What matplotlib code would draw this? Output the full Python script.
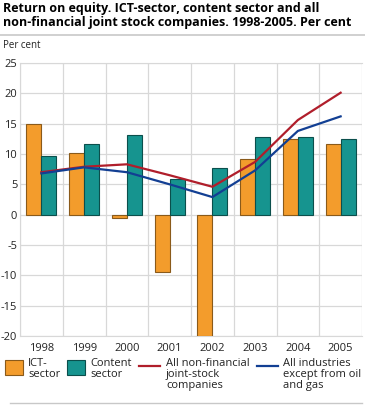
import numpy as np
import matplotlib
matplotlib.use("Agg")
import matplotlib.pyplot as plt
from matplotlib.patches import Rectangle
from matplotlib.lines import Line2D

years = ["1998", "1999", "2000", "2001", "2002", "2003", "2004", "2005"]
ict = [15.0, 10.2, -0.6, -9.5, -20.0, 9.2, 12.5, 11.7]
content = [9.7, 11.7, 13.2, 5.8, 7.7, 12.8, 12.8, 12.4]
non_financial = [7.0, 7.9, 8.3, 6.5, 4.6, 8.7, 15.6, 20.1]
all_industries = [6.8, 7.8, 7.0, 5.0, 2.9, 7.3, 13.8, 16.2]

orange = "#f39c2c"
teal = "#16948f"
red = "#b01e2b"
blue = "#123f93"
grid_col = "#d8d8d8"

plt.rcParams['font.family'] = ['Open Sans', 'DejaVu Sans']
plt.rcParams['axes.unicode_minus'] = False

fig = plt.figure(figsize=(3.65, 4.05), dpi=100)
ax = fig.add_axes([20/365, 1-336/405, 342/365, 273/405])

x = np.arange(len(years))
w = 0.35
ax.bar(x - w/2, ict, w, color=orange, edgecolor="#8a5a1a", linewidth=0.8, zorder=3)
ax.bar(x + w/2, content, w, color=teal, edgecolor="#0b4f4c", linewidth=0.8, zorder=3)
ax.plot(x, non_financial, color=red, linewidth=1.6, zorder=4)
ax.plot(x, all_industries, color=blue, linewidth=1.6, zorder=4)

ax.set_xlim(-0.5, len(years) - 0.5)
ax.set_ylim(-20, 25)
ax.set_yticks(range(-20, 26, 5))
ax.set_xticks(x)
ax.set_xticklabels(years)
ax.set_xticks(np.arange(-0.5, len(years), 1), minor=True)
ax.tick_params(axis="both", which="both", length=0, labelsize=8, colors="#222222")
ax.tick_params(axis="x", pad=5)
ax.tick_params(axis="y", pad=2)
ax.grid(True, which="minor", axis="x", color=grid_col, linewidth=0.9, zorder=0)
ax.grid(True, which="major", axis="y", color=grid_col, linewidth=0.9, zorder=0)
for s in ["right", "bottom", "left", "top"]:
    ax.spines[s].set_color(grid_col)
ax.spines["right"].set_visible(False)

# title
fig.text(3/365, 1-2/405, "Return on equity. ICT-sector, content sector and all\nnon-financial joint stock companies. 1998-2005. Per cent",
         ha="left", va="top", fontsize=9.0, fontweight="bold", linespacing=1.1)
fig.add_artist(Line2D([0, 1], [1-35/405, 1-35/405], color="#c8c8c8", linewidth=1.2))
fig.text(3/365, 1-40/405, "Per cent", ha="left", va="top", fontsize=7, color="#222222")

# legend
def fx(px):
    return px / 365

def fy(py):
    return 1 - py / 405

fig.add_artist(Rectangle((fx(5), fy(375)), fx(18), 15/405, facecolor=orange, edgecolor="#8a5a1a", linewidth=0.8))
fig.add_artist(Rectangle((fx(67), fy(375)), fx(18), 15/405, facecolor=teal, edgecolor="#0b4f4c", linewidth=0.8))
fig.add_artist(Line2D([fx(139), fx(160)], [fy(366), fy(366)], color=red, linewidth=1.6))
fig.add_artist(Line2D([fx(257), fx(278)], [fy(366), fy(366)], color=blue, linewidth=1.6))
leg_text = [(28, "ICT-\nsector"), (90, "Content\nsector"),
            (166, "All non-financial\njoint-stock\ncompanies"),
            (283, "All industries\nexcept from oil\nand gas")]
for px, t in leg_text:
    fig.text(fx(px), fy(358), t, ha="left", va="top", fontsize=8, color="#222222", linespacing=1.0)
fig.add_artist(Line2D([fx(10), fx(362)], [fy(403), fy(403)], color="#c8c8c8", linewidth=1.0))

fig.savefig("out.png", dpi=100)
